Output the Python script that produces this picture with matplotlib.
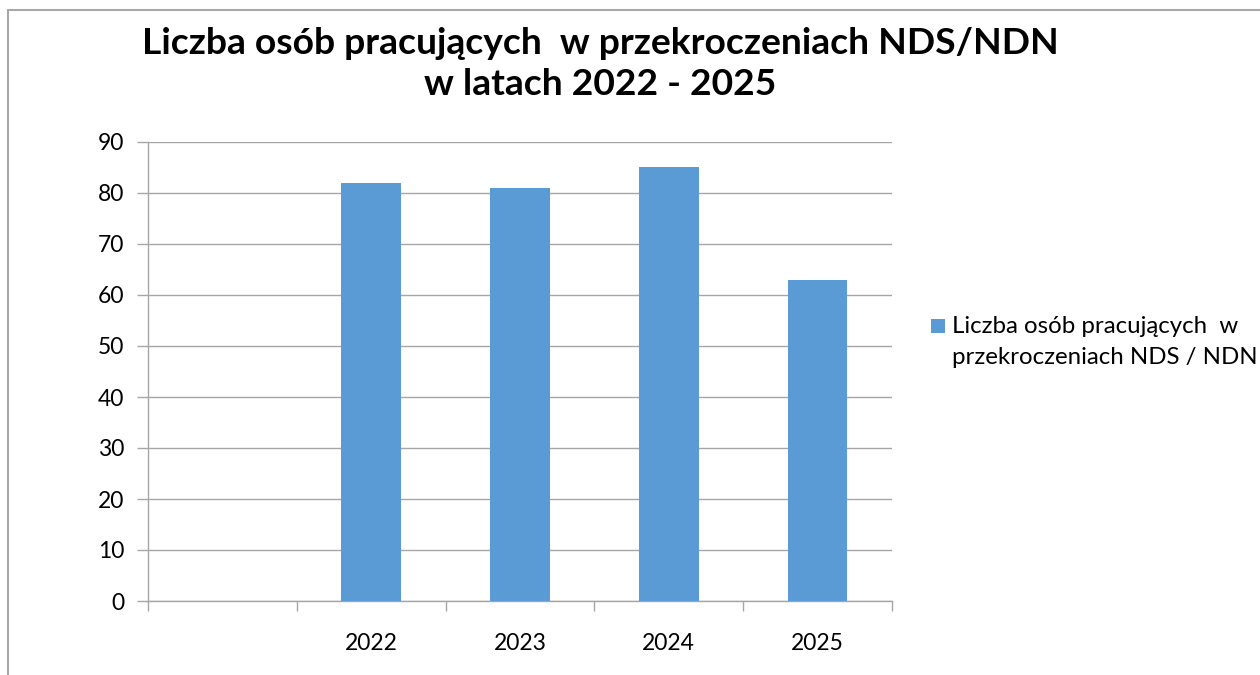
import matplotlib.pyplot as plt
from matplotlib.patches import Rectangle

plt.rcParams['font.family'] = ['Lato', 'DejaVu Sans']

# dane
years = ['', '2022', '2023', '2024', '2025']
values = [0, 82, 81, 85, 63]
series_label = 'Liczba osób pracujących  w\nprzekroczeniach NDS / NDN'
title = 'Liczba osób pracujących  w przekroczeniach NDS/NDN\nw latach 2022 - 2025'

bar_color = '#5B9BD5'
grid_color = '#A6A6A6'

W, H = 1260, 675
fig = plt.figure(figsize=(W / 100, H / 100), dpi=100)
ax = fig.add_axes([148 / W, 1 - 601 / H, (892 - 148) / W, (601 - 142) / H])

# ramka wykresu
fig.patches.append(Rectangle((8 / W, -0.05), 1.1, 1 - 10 / H + 0.05,
                             transform=fig.transFigure, fill=False,
                             edgecolor='#A8A8A8', linewidth=1.5))

x = list(range(len(years)))
ax.bar(x[1:], values[1:], width=0.4, color=bar_color, zorder=3)

ax.set_xlim(-0.5, len(years) - 0.5)
ax.set_ylim(0, 90)
ax.set_yticks(range(0, 91, 10))
ax.yaxis.grid(True, color=grid_color, linewidth=1, zorder=0)

ax.set_xticks(x)
ax.set_xticklabels(years)
ax.set_xticks([i - 0.5 for i in range(len(years) + 1)], minor=True)
ax.tick_params(axis='x', which='major', length=0, pad=23, labelsize=16.5)
ax.tick_params(axis='x', which='minor', length=7, color=grid_color, width=1)
ax.tick_params(axis='y', length=8, color=grid_color, width=1, pad=9, labelsize=16.5)

for s in ['top', 'right']:
    ax.spines[s].set_visible(False)
for s in ['left', 'bottom']:
    ax.spines[s].set_color(grid_color)
    ax.spines[s].set_linewidth(1)

fig.text(600 / W, 1 - 64 / H, title, ha='center', va='center',
         fontsize=26.8, fontweight='bold', linespacing=1.3)

# legenda (znacznik przy pierwszej linii, jak w Excelu)
fig.patches.append(Rectangle((931 / W, 1 - 333 / H), 14 / W, 14 / H,
                             transform=fig.transFigure, facecolor=bar_color,
                             edgecolor='none'))
fig.text(952 / W, 1 - 316 / H, series_label, ha='left', va='top',
         fontsize=17.3, linespacing=1.6)

fig.savefig('out.png', dpi=100)
